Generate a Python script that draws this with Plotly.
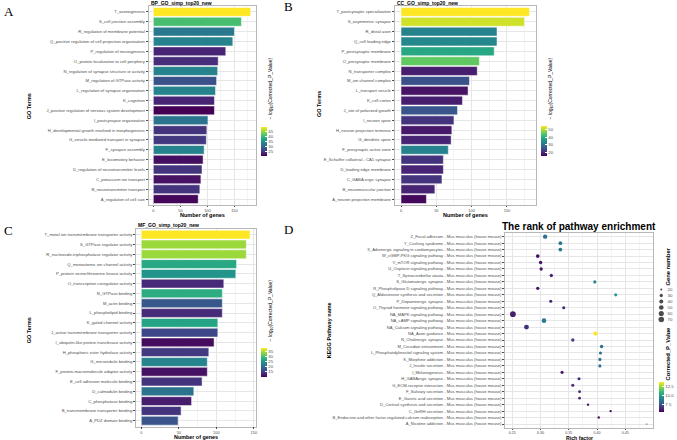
import plotly.graph_objects as go
import math

W, H = 677, 440
FONT = "Liberation Sans, Arial, sans-serif"
SERIF = "Liberation Serif, DejaVu Serif, serif"
TXT = "#4d4d4d"

# ---------------- Data ----------------
bp_terms = ["T_axonogenesis", "S_cell junction assembly", "R_regulation of membrane potential",
            "Q_positive regulation of cell projection organization", "P_regulation of neurogenesis",
            "O_protein localization to cell periphery", "N_regulation of synapse structure or activity",
            "M_regulation of GTPase activity", "L_regulation of synapse organization", "K_cognition",
            "J_positive regulation of nervous system development", "I_postsynapse organization",
            "H_developmental growth involved in morphogenesis", "G_vesicle-mediated transport in synapse",
            "F_synapse assembly", "E_locomotory behavior", "D_regulation of neurotransmitter levels",
            "C_potassium ion transport", "B_neurotransmitter transport", "A_regulation of cell size"]
bp_genes = [180, 163, 150, 147, 134, 120, 119, 117, 115, 113, 113, 101, 99, 98, 94, 92, 90, 88, 86, 83]
bp_logp = [49.4, 40.7, 32.0, 33.4, 23.2, 24.0, 33.4, 27.6, 33.4, 23.2, 20.3, 31.4, 24.7, 25.2, 33.4,
           21.5, 24.7, 21.8, 24.7, 20.8]

cc_terms = ["T_postsynaptic specialization", "S_asymmetric synapse", "R_distal axon", "Q_cell leading edge",
            "P_postsynaptic membrane", "O_presynaptic membrane", "N_transporter complex",
            "M_ion channel complex", "L_transport vesicle", "K_cell cortex", "J_site of polarized growth",
            "I_neuron spine", "H_neuron projection terminus", "G_dendritic spine",
            "F_presynaptic active zone", "E_Schaffer collateral - CA1 synapse", "D_leading edge membrane",
            "C_GABA-ergic synapse", "B_neuromuscular junction", "A_neuron projection membrane"]
cc_genes = [182, 175, 136, 136, 132, 111, 108, 97, 95, 87, 80, 75, 72, 71, 67, 60, 60, 58, 48, 36]
cc_logp = [54.8, 52.0, 33.2, 34.0, 39.0, 45.0, 18.7, 25.4, 17.6, 18.7, 26.2, 21.5, 18.3, 19.5, 33.2,
           21.5, 19.5, 21.5, 19.5, 16.5]

mf_terms = ["T_metal ion transmembrane transporter activity", "S_GTPase regulator activity",
            "R_nucleoside-triphosphatase regulator activity", "Q_monoatomic ion channel activity",
            "P_protein serine/threonine kinase activity", "O_transcription coregulator activity",
            "N_GTPase binding", "M_actin binding", "L_phospholipid binding", "K_gated channel activity",
            "J_active transmembrane transporter activity", "I_ubiquitin-like protein transferase activity",
            "H_phosphoric ester hydrolase activity", "G_microtubule binding",
            "F_protein-macromolecule adaptor activity", "E_cell adhesion molecule binding",
            "D_calmodulin binding", "C_phosphatase binding", "B_transmembrane transporter binding",
            "A_PDZ domain binding"]
mf_genes = [145, 140, 140, 127, 126, 110, 108, 108, 108, 102, 102, 97, 90, 88, 88, 81, 70, 67, 53, 49]
mf_logp = [38.5, 34.2, 34.2, 27.1, 24.9, 13.5, 27.7, 17.8, 13.5, 26.6, 16.3, 11.0, 14.9, 22.9, 11.5,
           14.4, 20.9, 12.4, 14.4, 17.5]

kegg_names = ["Z_Focal adhesion", "Y_Cushing syndrome", "X_Adrenergic signaling in cardiomyocytes",
              "W_cGMP-PKG signaling pathway", "V_mTOR signaling pathway", "U_Oxytocin signaling pathway",
              "T_Spinocerebellar ataxia", "S_Glutamatergic synapse", "R_Phospholipase D signaling pathway",
              "Q_Aldosterone synthesis and secretion", "P_Dopaminergic synapse",
              "O_Thyroid hormone signaling pathway", "NA_MAPK signaling pathway", "NA_cAMP signaling pathway",
              "NA_Calcium signaling pathway", "NA_Axon guidance", "N_Cholinergic synapse",
              "M_Circadian entrainment", "L_Phosphatidylinositol signaling system", "K_Morphine addiction",
              "J_Insulin secretion", "I_Melanogenesis", "H_GABAergic synapse", "G_ECM-receptor interaction",
              "F_Salivary secretion", "E_Gastric acid secretion", "D_Cortisol synthesis and secretion",
              "C_GnRH secretion", "B_Endocrine and other factor-regulated calcium reabsorption",
              "A_Nicotine addiction"]
kegg_species = " - Mus musculus (house mouse)"
kegg_rich = [0.308, 0.335, 0.335, 0.295, 0.300, 0.301, 0.319, 0.396, 0.295, 0.433, 0.318, 0.341,
             0.251, 0.306, 0.275, 0.397, 0.357, 0.408, 0.406, 0.405, 0.405, 0.338, 0.368, 0.357,
             0.369, 0.369, 0.384, 0.424, 0.403, 0.488]
kegg_genes = [45, 36, 36, 35, 31, 31, 31, 28, 31, 28, 28, 28, 73, 50, 56, 44, 31, 31, 28, 28, 28, 28,
              27, 27, 25, 25, 22, 22, 22, 18]
kegg_p = [8.5, 8.8, 8.8, 5.8, 5.8, 5.9, 6.2, 9.1, 5.8, 10.0, 6.2, 6.4, 6.0, 8.8, 6.5, 13.9, 7.0, 8.5,
          8.5, 8.5, 8.5, 5.9, 6.3, 6.3, 6.3, 6.3, 5.8, 5.8, 5.8, 5.3]
size_breaks = [20, 30, 40, 50, 60, 70]

kegg_terms = [n + kegg_species for n in kegg_names]


# ---------------- helpers ----------------
def px(x):
    return x / W


def py(y):
    return 1 - y / H


gmin, gmax = min(kegg_genes), max(kegg_genes)


def dot_size(n):
    r = max(0.0, (n - gmin) / (gmax - gmin))
    return 1.2 + 4.5 * math.sqrt(r)


fig = go.Figure()

bar_panels = [
    (bp_terms, bp_genes, bp_logp, "x", "y", "coloraxis"),
    (cc_terms, cc_genes, cc_logp, "x2", "y2", "coloraxis2"),
    (mf_terms, mf_genes, mf_logp, "x3", "y3", "coloraxis3"),
]
for terms, genes, logp, xa, ya, ca in bar_panels:
    fig.add_trace(go.Bar(
        x=genes, y=terms, orientation="h", width=0.9,
        marker=dict(color=logp, coloraxis=ca, line=dict(color="white", width=0.5)),
        xaxis=xa, yaxis=ya, showlegend=False, hoverinfo="x+y"))

fig.add_trace(go.Scatter(
    x=kegg_rich, y=kegg_terms, mode="markers",
    marker=dict(color=kegg_p, coloraxis="coloraxis4", size=[dot_size(g) for g in kegg_genes],
                line=dict(width=0), opacity=1),
    xaxis="x4", yaxis="y4", showlegend=False))

# size legend
fig.add_trace(go.Scatter(
    x=[0] * len(size_breaks), y=size_breaks, mode="markers",
    marker=dict(color="black", size=[dot_size(v) for v in size_breaks], line=dict(width=0)),
    xaxis="x5", yaxis="y5", showlegend=False, hoverinfo="skip"))
fig.add_trace(go.Scatter(
    x=[1] * len(size_breaks), y=size_breaks, mode="text", text=[str(v) for v in size_breaks],
    textposition="middle right", textfont=dict(size=4.3, color=TXT, family=FONT),
    xaxis="x5", yaxis="y5", showlegend=False, hoverinfo="skip"))


def xaxis_style(dom, rng, dtick, minor_dtick, anchor, tickformat=None, fsize=3.9, tlen=1.5):
    d = dict(domain=dom, range=rng, dtick=dtick, tick0=0, anchor=anchor, showline=True,
             linecolor="#b8b8b8", linewidth=0.6, mirror=True, showgrid=True, gridcolor="#e6e6e6",
             gridwidth=0.5, zeroline=False, ticks="outside", ticklen=tlen, tickwidth=0.5, tickcolor=TXT,
             tickfont=dict(size=fsize, color=TXT, family=FONT),
             minor=dict(showgrid=True, gridcolor="#f4f4f4", gridwidth=0.4, dtick=minor_dtick, tick0=0))
    if tickformat:
        d["tickformat"] = tickformat
    return d


def yaxis_style(dom, terms, anchor, fsize=4.2):
    n = len(terms)
    return dict(domain=dom, type="category", categoryorder="array", categoryarray=terms,
                range=[n - 1 + 0.6, -0.6], anchor=anchor, showline=True, linecolor="#b8b8b8",
                linewidth=0.6, mirror=True, showgrid=True, gridcolor="#e6e6e6", gridwidth=0.5,
                ticks="outside", ticklen=2, tickwidth=0.5, tickcolor=TXT,
                tickfont=dict(size=fsize, color=TXT, family=FONT))


def cbar(x0, ytop, length, thick, tickvals, ticktext=None):
    c = dict(x=px(x0), xanchor="left", y=py(ytop), yanchor="top", len=length, lenmode="pixels",
             thickness=thick, thicknessmode="pixels", xpad=0, ypad=0, outlinewidth=0,
             tickvals=tickvals, ticks="inside", ticklen=1.5, tickcolor="white", tickwidth=0.4,
             tickfont=dict(size=4.3, color=TXT, family=FONT))
    if ticktext:
        c["ticktext"] = ticktext
    return c


ya_dom = [py(205), py(6)]
yc_dom = [py(426.6), py(228.8)]
yd_dom = [py(427.9), py(232.8)]

layout = dict(
    width=W, height=H, autosize=False,
    margin=dict(l=0, r=0, t=0, b=0, pad=0, autoexpand=False),
    paper_bgcolor="white", plot_bgcolor="white",
    font=dict(family=FONT, color="black"),
    showlegend=False,
    xaxis=xaxis_style([px(148.5), px(255.5)], [-0.05 * max(bp_genes), 1.05 * max(bp_genes)], 50, 25, "y"),
    yaxis=yaxis_style(ya_dom, bp_terms, "x"),
    xaxis2=xaxis_style([px(394.6), px(535.9)], [-0.05 * max(cc_genes), 1.05 * max(cc_genes)], 50, 25, "y2"),
    yaxis2=yaxis_style(ya_dom, cc_terms, "x2"),
    xaxis3=xaxis_style([px(135.9), px(255.5)], [-0.05 * max(mf_genes), 1.05 * max(mf_genes)], 50, 25, "y3"),
    yaxis3=yaxis_style(yc_dom, mf_terms, "x3"),
    xaxis4=xaxis_style([px(505), px(653)], [0.237, 0.499], 0.05, 0.025, "y4", ".2f", fsize=3.7, tlen=1.2),
    yaxis4=yaxis_style(yd_dom, kegg_terms, "x4", fsize=4.1),
    xaxis5=dict(domain=[px(655), px(677)], range=[-1, 2.5], visible=False, anchor="y5"),
    yaxis5=dict(domain=[py(323), py(286)], range=[75.8, 14.2], visible=False, anchor="x5"),
    coloraxis=dict(colorscale="Viridis", cmin=20.3, cmax=49.4,
                   colorbar=cbar(261, 126.7, 28.6, 5.7, [25, 30, 35, 40, 45])),
    coloraxis2=dict(colorscale="Viridis", cmin=15.6, cmax=54.8,
                    colorbar=cbar(541, 125.7, 29.6, 5.7, [20, 30, 40, 50])),
    coloraxis3=dict(colorscale="Viridis", cmin=10.1, cmax=38.5,
                    colorbar=cbar(260.7, 347.7, 29, 5.5, [15, 20, 25, 30, 35])),
    coloraxis4=dict(colorscale="Viridis", cmin=5.3, cmax=13.9,
                    colorbar=cbar(659.3, 381.7, 30, 5, [7.5, 10, 12.5], ["7.5", "10.0", "12.5"])),
)
fig.update_layout(**layout)


def ann(text, x, y, size, xanchor="center", yanchor="middle", angle=0, family=FONT, color="black"):
    fig.add_annotation(text=text, x=px(x), y=py(y), xref="paper", yref="paper", showarrow=False,
                       xanchor=xanchor, yanchor=yanchor, textangle=angle,
                       font=dict(size=size, family=family, color=color))


# panel letters
ann("A", 1.5, 11, 13, xanchor="left", family=SERIF)
ann("B", 281.5, 7, 13, xanchor="left", family=SERIF)
ann("C", 1.5, 230, 13, xanchor="left", family=SERIF)
ann("D", 281.5, 229, 13, xanchor="left", family=SERIF)

# panel titles
ann("<b>BP_GO_simp_top20_new</b>", 148.5, 3, 5, xanchor="left")
ann("<b>CC_GO_simp_top20_new</b>", 394.6, 3, 5, xanchor="left")
ann("<b>MF_GO_simp_top20_new</b>", 136, 225, 5, xanchor="left")
ann("<b>The rank of pathway enrichment</b>", 579, 226, 10)

# axis titles
ann("<b>Number of genes</b>", 202, 214.5, 5.5)
ann("<b>Number of genes</b>", 465, 214.5, 5.5)
ann("<b>Number of genes</b>", 196, 436.8, 5.4)
ann("<b>Rich factor</b>", 579, 437.5, 5.2)
ann("<b>GO Terms</b>", 29.3, 106, 5.5, angle=-90)
ann("<b>GO Terms</b>", 319, 104, 5.5, angle=-90)
ann("<b>GO Terms</b>", 29.3, 330, 5.5, angle=-90)
ann("<b>KEGG Pathway name</b>", 329.3, 330, 5.5, angle=-90)

# legend titles
cb_title = "\u2212 log<sub>10</sub>(Corrected_P_Value)"
ann(cb_title, 270, 88.4, 5, angle=-90)
ann(cb_title, 550, 88.4, 5, angle=-90)
ann(cb_title, 270, 310.5, 5, angle=-90)
ann("<b>Gene number</b>", 667, 266.5, 5.8, angle=-90)
ann("<b>Corrected_P_Value</b>", 667, 353.5, 5.8, angle=-90)

fig.write_html(
    "out.html",
    config={"displayModeBar": False},
    post_script="document.body.style.margin='0px';document.body.style.padding='0px';"
                "document.body.style.overflow='hidden';",
)
